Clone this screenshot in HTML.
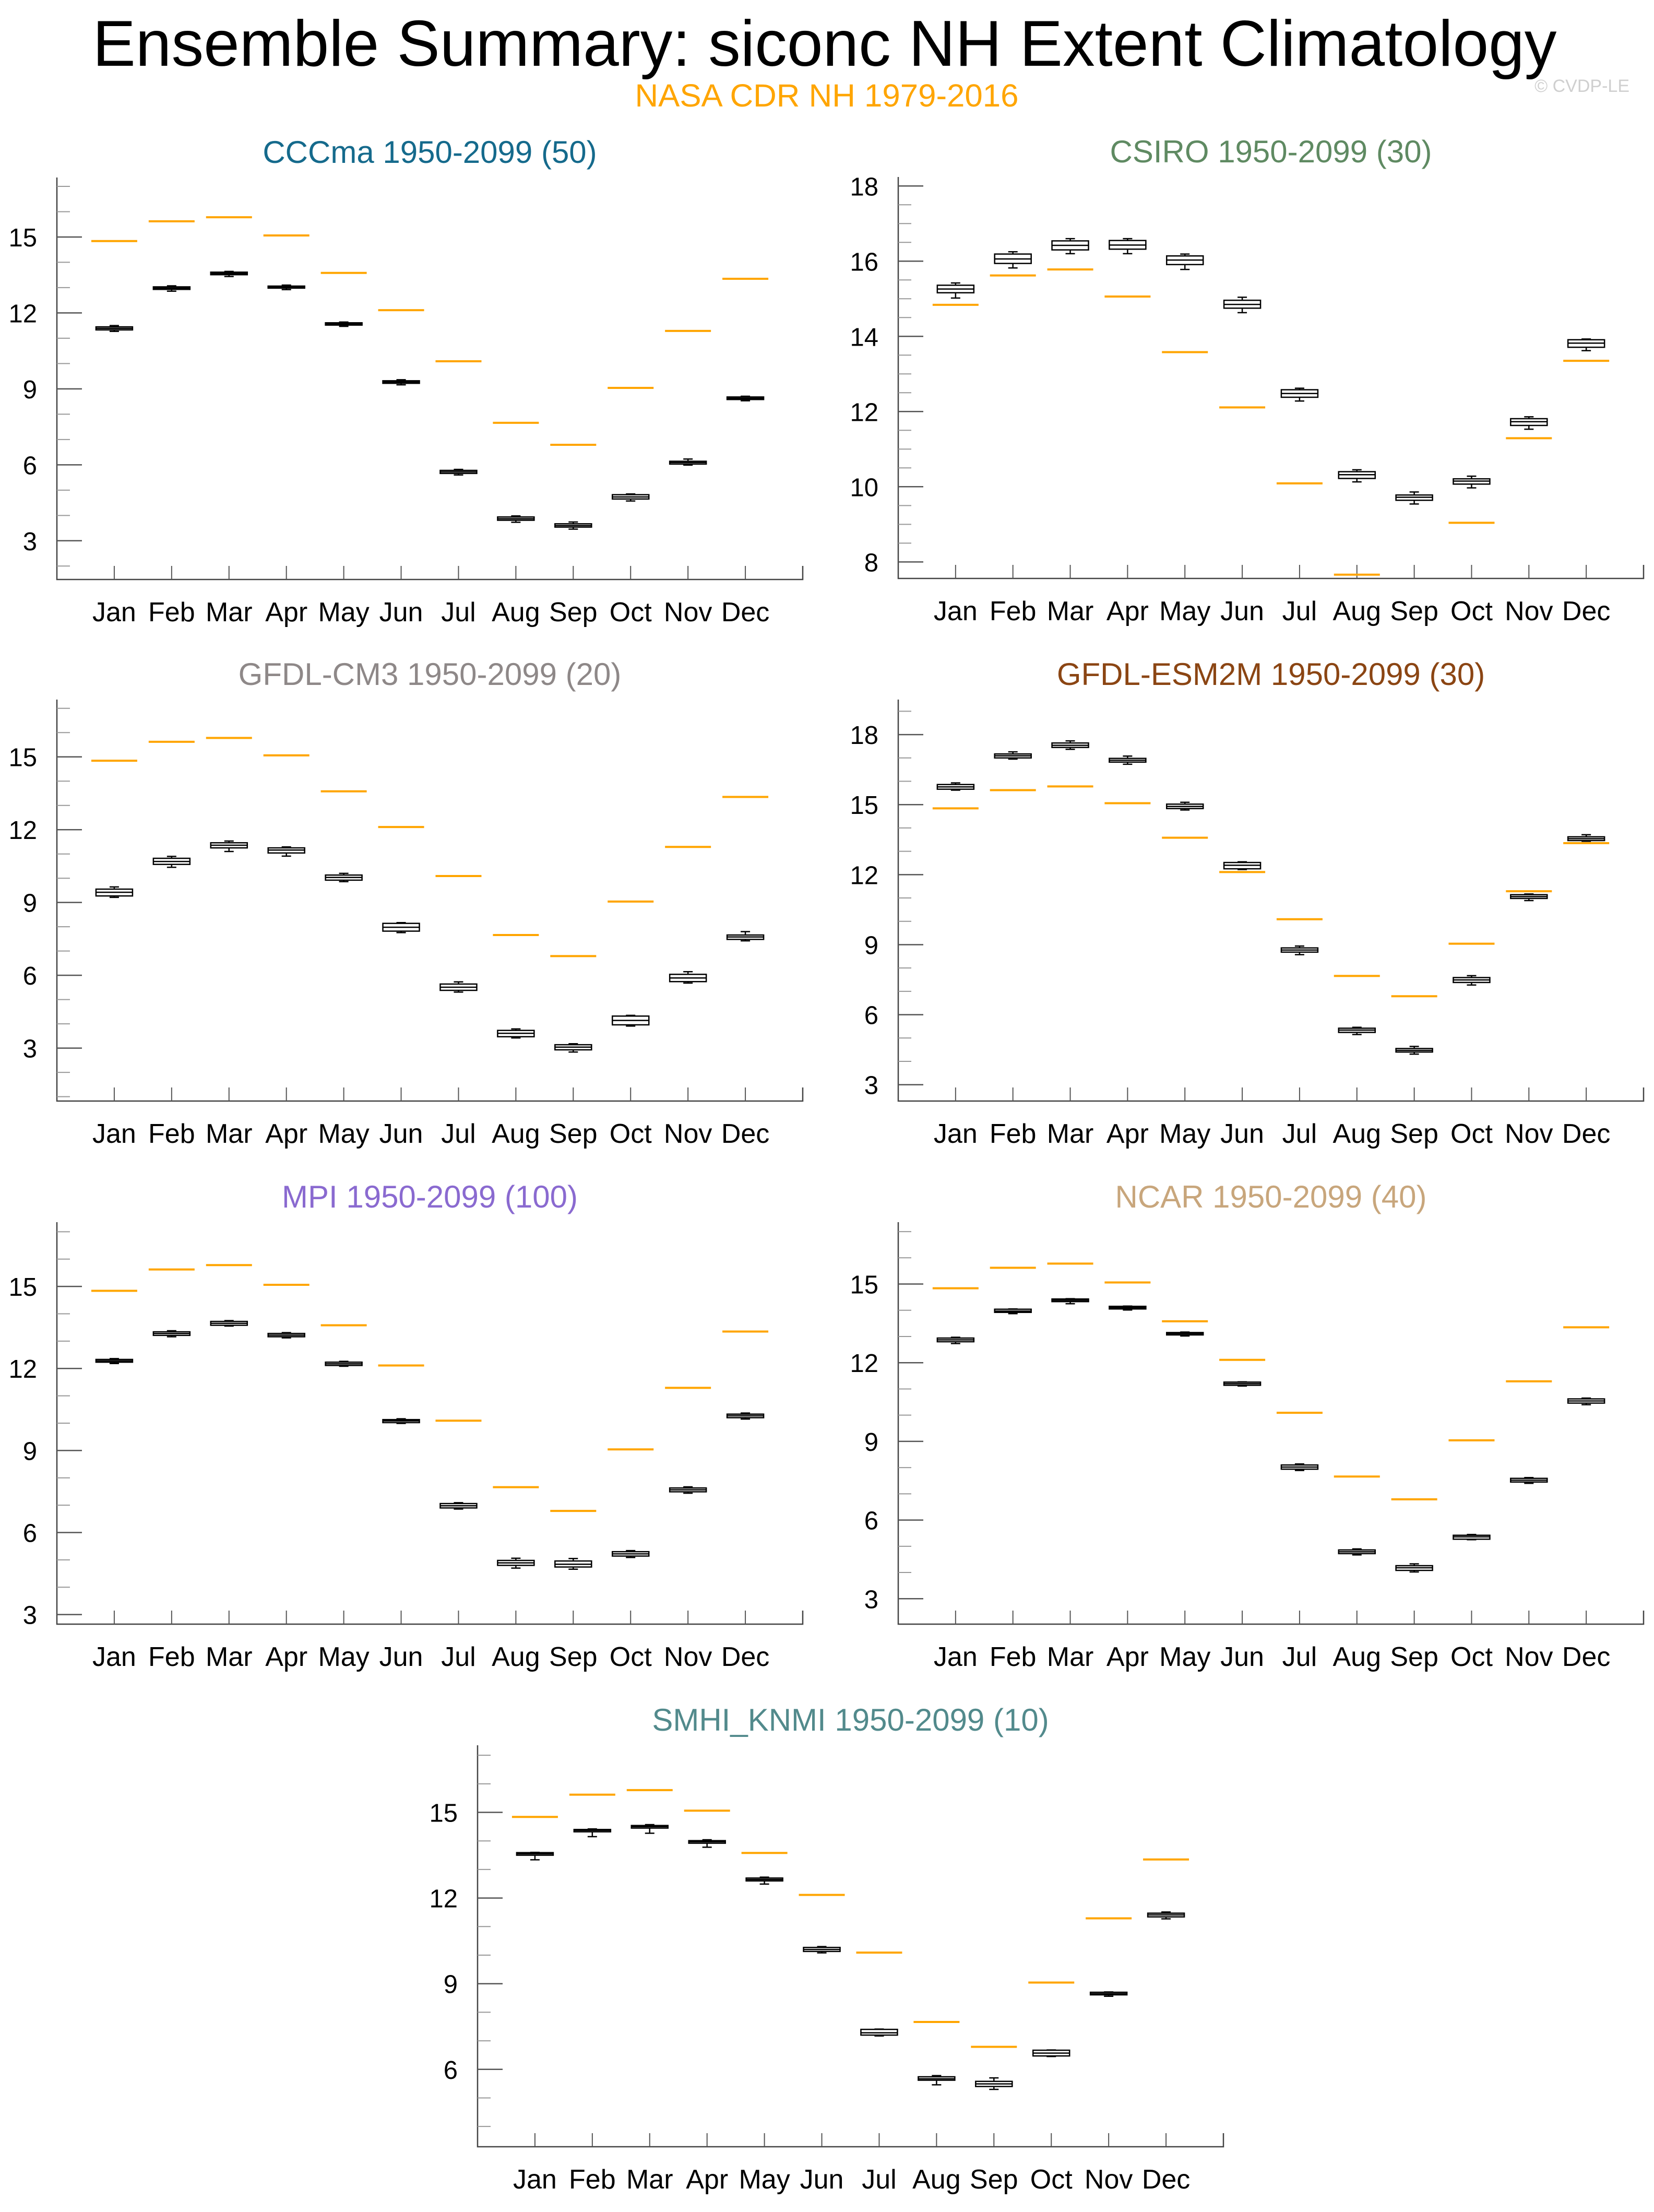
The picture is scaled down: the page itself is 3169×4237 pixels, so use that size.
<!DOCTYPE html>
<html><head><meta charset="utf-8"><style>
html,body{margin:0;padding:0;background:#fff;}
svg{display:block;font-family:"Liberation Sans",Arial,sans-serif;}
</style></head>
<body>
<svg id="fig" width="3169" height="4237" viewBox="0 0 3169 4237" xmlns="http://www.w3.org/2000/svg">
<rect width="3169" height="4237" fill="#fff"/>
<text x="1580" y="126" font-size="124" text-anchor="middle" textLength="2805" lengthAdjust="spacingAndGlyphs" fill="#000">Ensemble Summary: siconc NH Extent Climatology</text>
<text x="1584" y="204" font-size="61" text-anchor="middle" textLength="735" lengthAdjust="spacingAndGlyphs" fill="#ffa500">NASA CDR NH 1979-2016</text>
<text x="3122" y="176" font-size="34" text-anchor="end" fill="#cfcfcf">© CVDP-LE</text>
<g id="panels"></g>
</svg>
<script>
const months = ["Jan","Feb","Mar","Apr","May","Jun","Jul","Aug","Sep","Oct","Nov","Dec"];
const obsValues = [14.84,15.62,15.78,15.06,13.58,12.11,10.09,7.66,6.79,9.04,11.29,13.35];

const cccmaMed = [11.39,12.98,13.56,13.02,11.56,9.27,5.72,3.87,3.60,4.73,6.09,8.63];
const cccmaQ1  = [11.33,12.93,13.51,12.98,11.52,9.22,5.66,3.81,3.54,4.65,6.03,8.58];
const cccmaQ3  = [11.45,13.03,13.61,13.06,11.61,9.32,5.78,3.94,3.67,4.82,6.14,8.68];
const cccmaLo  = [11.27,12.86,13.44,12.92,11.47,9.16,5.60,3.73,3.46,4.57,5.99,8.53];
const cccmaHi  = [11.50,13.07,13.64,13.10,11.64,9.36,5.82,3.98,3.74,4.85,6.23,8.71];

const csiroMed = [15.26,16.06,16.42,16.43,16.03,14.85,12.48,10.32,9.72,10.15,11.73,13.82];
const csiroQ1  = [15.16,15.94,16.30,16.32,15.91,14.75,12.38,10.22,9.64,10.07,11.63,13.71];
const csiroQ3  = [15.36,16.19,16.54,16.55,16.14,14.96,12.58,10.40,9.78,10.21,11.81,13.91];
const csiroLo  = [15.02,15.82,16.20,16.20,15.78,14.63,12.28,10.13,9.54,9.97,11.53,13.62];
const csiroHi  = [15.42,16.25,16.60,16.60,16.19,15.04,12.62,10.45,9.86,10.28,11.86,13.93];

const cm3Med = [9.42,10.69,11.36,11.16,10.03,7.98,5.51,3.61,3.04,4.14,5.89,7.58];
const cm3Q1  = [9.27,10.57,11.25,11.04,9.92,7.82,5.38,3.47,2.93,3.96,5.74,7.48];
const cm3Q3  = [9.55,10.82,11.46,11.25,10.13,8.14,5.64,3.73,3.14,4.32,6.04,7.66];
const cm3Lo  = [9.21,10.45,11.10,10.91,9.86,7.76,5.31,3.42,2.84,3.91,5.68,7.42];
const cm3Hi  = [9.64,10.90,11.53,11.29,10.20,8.17,5.73,3.79,3.18,4.35,6.15,7.80];

const esmMed = [15.76,17.09,17.54,16.90,14.92,12.40,8.77,5.34,4.47,7.49,11.06,13.54];
const esmQ1  = [15.66,17.00,17.45,16.82,14.83,12.25,8.68,5.24,4.40,7.38,10.98,13.46];
const esmQ3  = [15.86,17.17,17.64,16.98,15.02,12.52,8.86,5.42,4.55,7.59,11.14,13.62];
const esmLo  = [15.62,16.95,17.37,16.73,14.77,12.22,8.57,5.15,4.31,7.27,10.89,13.43];
const esmHi  = [15.93,17.26,17.73,17.08,15.10,12.55,8.94,5.46,4.64,7.67,11.17,13.71];

const mpiMed = [12.28,13.28,13.65,13.22,12.17,10.08,6.98,4.89,4.84,5.22,7.56,10.27];
const mpiQ1  = [12.23,13.21,13.58,13.16,12.11,10.02,6.90,4.80,4.74,5.14,7.49,10.20];
const mpiQ3  = [12.33,13.34,13.72,13.28,12.23,10.13,7.06,4.98,4.96,5.30,7.63,10.33];
const mpiLo  = [12.18,13.16,13.55,13.12,12.08,9.99,6.86,4.70,4.66,5.09,7.44,10.15];
const mpiHi  = [12.36,13.38,13.75,13.31,12.26,10.16,7.09,5.06,5.05,5.34,7.67,10.37];

const ncarMed = [12.87,13.97,14.38,14.10,13.11,11.20,8.02,4.79,4.18,5.36,7.52,10.54];
const ncarQ1  = [12.80,13.92,14.33,14.05,13.06,11.14,7.94,4.72,4.08,5.27,7.45,10.46];
const ncarQ3  = [12.94,14.04,14.43,14.15,13.15,11.26,8.10,4.86,4.26,5.42,7.59,10.62];
const ncarLo  = [12.73,13.87,14.25,14.01,13.02,11.11,7.89,4.67,4.02,5.25,7.40,10.40];
const ncarHi  = [12.97,14.05,14.44,14.16,13.17,11.27,8.14,4.90,4.33,5.45,7.62,10.65];

const smhiMed = [13.55,14.37,14.50,13.97,12.65,10.20,7.28,5.67,5.49,6.57,8.65,11.41];
const smhiQ1  = [13.50,14.32,14.45,13.92,12.60,10.13,7.20,5.62,5.40,6.47,8.61,11.34];
const smhiQ3  = [13.59,14.40,14.54,14.01,12.70,10.27,7.40,5.74,5.58,6.67,8.70,11.47];
const smhiLo  = [13.34,14.15,14.27,13.78,12.49,10.08,7.17,5.46,5.30,6.45,8.56,11.27];
const smhiHi  = [13.60,14.42,14.57,14.04,12.73,10.30,7.41,5.78,5.70,6.68,8.71,11.51];

const ticks3to15 = [3,6,9,12,15];
const ticksCsiro = [8,10,12,14,16,18];
const ticksEsm = [3,6,9,12,15,18];
const ticksSmhi = [6,9,12,15];

const panels = [
 {key:"cccma", title:"CCCma 1950-2099 (50)", color:"#156a8c", x0:109,x1:1538,y0:340,y1:1110, ymin:1.47,ymax:17.35, ticks:ticks3to15, minor:1, med:cccmaMed,q1:cccmaQ1,q3:cccmaQ3,lo:cccmaLo,hi:cccmaHi},
 {key:"csiro", title:"CSIRO 1950-2099 (30)", color:"#5f8a62", x0:1721,x1:3149,y0:339,y1:1108, ymin:7.56,ymax:18.24, ticks:ticksCsiro, minor:0.5, med:csiroMed,q1:csiroQ1,q3:csiroQ3,lo:csiroLo,hi:csiroHi},
 {key:"gfdl-cm3", title:"GFDL-CM3 1950-2099 (20)", color:"#8e8888", x0:109,x1:1538,y0:1340,y1:2109, ymin:0.82,ymax:17.36, ticks:ticks3to15, minor:1, med:cm3Med,q1:cm3Q1,q3:cm3Q3,lo:cm3Lo,hi:cm3Hi},
 {key:"gfdl-esm2m", title:"GFDL-ESM2M 1950-2099 (30)", color:"#8b4513", x0:1721,x1:3149,y0:1340,y1:2109, ymin:2.3,ymax:19.5, ticks:ticksEsm, minor:1, med:esmMed,q1:esmQ1,q3:esmQ3,lo:esmLo,hi:esmHi},
 {key:"mpi", title:"MPI 1950-2099 (100)", color:"#8a6ad0", x0:109,x1:1538,y0:2341,y1:3111, ymin:2.65,ymax:17.35, ticks:ticks3to15, minor:1, med:mpiMed,q1:mpiQ1,q3:mpiQ3,lo:mpiLo,hi:mpiHi},
 {key:"ncar", title:"NCAR 1950-2099 (40)", color:"#c8a67c", x0:1721,x1:3149,y0:2341,y1:3111, ymin:2.03,ymax:17.36, ticks:ticks3to15, minor:1, med:ncarMed,q1:ncarQ1,q3:ncarQ3,lo:ncarLo,hi:ncarHi},
 {key:"smhi-knmi", title:"SMHI_KNMI 1950-2099 (10)", color:"#528a8c", x0:915,x1:2344,y0:3343,y1:4112, ymin:3.29,ymax:17.35, ticks:ticksSmhi, minor:1, med:smhiMed,q1:smhiQ1,q3:smhiQ3,lo:smhiLo,hi:smhiHi}
];

const NS = "http://www.w3.org/2000/svg";
function mk(tag, attrs, parent){
  const e = document.createElementNS(NS, tag);
  for (const k in attrs) e.setAttribute(k, attrs[k]);
  parent.appendChild(e);
  return e;
}
const root = document.getElementById("panels");

panels.forEach(p => {
  const g = mk("g", {}, root);
  
  
  const xs = i => p.x0 + (i + 1) * (p.x1 - p.x0) / 13;
  const ys = v => p.y1 - (v - p.ymin) / (p.ymax - p.ymin) * (p.y1 - p.y0);
  const cx = (p.x0 + p.x1) / 2;

  const t = mk("text", {x:cx, y:p.y0 - 28, "font-size":60, "text-anchor":"middle", fill:p.color}, g);
  
  
  t.textContent = p.title;

  const axis = mk("path", {d:`M${p.x0},${p.y0} V${p.y1} H${p.x1} V${p.y1-26}`, stroke:"#444", "stroke-width":2.5, fill:"none"}, g);
  
  

  const start = Math.ceil(p.ymin / p.minor) * p.minor;
  for (let v = start; v <= p.ymax + 1e-9; v += p.minor) {
    const isMajor = p.ticks.some(tv => Math.abs(tv - v) < 1e-6);
    const y = ys(v);
    const tk = mk("line", {x1:p.x0, x2:p.x0 + (isMajor ? 48 : 25), y1:y, y2:y, stroke: isMajor ? "#555" : "#999", "stroke-width": isMajor ? 2.5 : 2}, g);
    
    
  }
  p.ticks.forEach(tv => {
    const lb = mk("text", {x:p.x0 - 38, y:ys(tv) + 18, "font-size":49, "text-anchor":"end", fill:"#000"}, g);
    
    
    lb.textContent = String(tv);
  });

  months.forEach((m, i) => {
    const x = xs(i);
    const tk = mk("line", {x1:x, x2:x, y1:p.y1, y2:p.y1 - 26, stroke:"#555", "stroke-width":2}, g);
    
    
    const lb = mk("text", {x:x, y:p.y1 + 80, "font-size":52, "text-anchor":"middle", fill:"#000"}, g);
    
    
    lb.textContent = m;

    if (obsValues[i] >= p.ymin && obsValues[i] <= p.ymax) {
      const ob = mk("line", {x1:x - 44, x2:x + 44, y1:ys(obsValues[i]), y2:ys(obsValues[i]), stroke:"#ffa500", "stroke-width":4}, g);
      
      
    }

    const bg = mk("g", {stroke:"#000", "stroke-width":2.5, fill:"#fff"}, g);
    
    
    const yl = ys(p.lo[i]), yh = ys(p.hi[i]), yq1 = ys(p.q1[i]), yq3 = ys(p.q3[i]), ym = ys(p.med[i]);
    mk("line", {x1:x, x2:x, y1:yh, y2:yq3}, bg);
    mk("line", {x1:x, x2:x, y1:yq1, y2:yl}, bg);
    mk("line", {x1:x - 9, x2:x + 9, y1:yh, y2:yh}, bg);
    mk("line", {x1:x - 9, x2:x + 9, y1:yl, y2:yl}, bg);
    mk("rect", {x:x - 35, y:yq3, width:70, height:Math.max(yq1 - yq3, 3)}, bg);
    mk("line", {x1:x - 35, x2:x + 35, y1:ym, y2:ym}, bg);
  });
});
</script>
</body></html>
